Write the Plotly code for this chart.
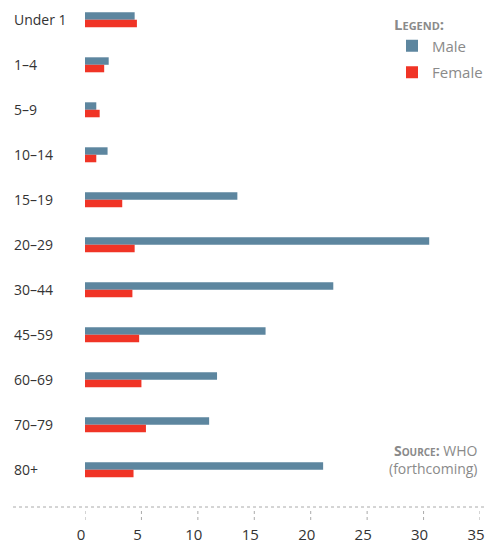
import plotly.graph_objects as go

categories = ["Under 1", "1–4", "5–9", "10–14", "15–19", "20–29",
              "30–44", "45–59", "60–69", "70–79", "80+"]
male = [4.4, 2.1, 1.0, 2.0, 13.5, 30.5, 22.0, 16.0, 11.7, 11.0, 21.1]
female = [4.6, 1.7, 1.3, 1.0, 3.3, 4.4, 4.2, 4.8, 5.0, 5.4, 4.3]
x_ticks = [0, 5, 10, 15, 20, 25, 30, 35]

MALE_C = "#5d869f"
FEMALE_C = "#f03426"
FONT = "Open Sans"

W, H = 485, 545
ML, MR, MT, MB = 85, 5, 0, 55
PW = W - ML - MR
PH = H - MT - MB


def px_x(px):
    return (px - ML) / PW


def px_y(py):
    return 1 - (py - MT) / PH


fig = go.Figure()
fig.add_trace(go.Bar(y=categories, x=male, orientation="h", name="Male",
                     marker=dict(color=MALE_C, line=dict(width=0)),
                     legendgroup="m"))
fig.add_trace(go.Bar(y=categories, x=female, orientation="h", name="Female",
                     marker=dict(color=FEMALE_C, line=dict(width=0)),
                     legendgroup="f"))

shapes = [dict(type="line", xref="paper", yref="paper",
               x0=px_x(13), x1=px_x(485), y0=px_y(507), y1=px_y(507),
               line=dict(color="#aaaaaa", width=1, dash="dot"))]
for t in x_ticks:
    shapes.append(dict(type="line", xref="x", yref="paper", x0=t, x1=t,
                       y0=px_y(511), y1=px_y(523),
                       line=dict(color="#aaaaaa", width=1, dash="dot")))

annotations = []
for c in categories:
    annotations.append(dict(xref="paper", yref="y", x=px_x(12), y=c,
                            xanchor="left", yanchor="middle", showarrow=False,
                            text=c, font=dict(family=FONT, size=14, color="#333333")))
annotations.append(dict(xref="paper", yref="paper", x=px_x(480), y=px_y(459),
                        xanchor="right", yanchor="middle", showarrow=False, align="right",
                        text='<span style="font-variant:small-caps"><b>Source:</b></span> WHO<br>(forthcoming)',
                        font=dict(family=FONT, size=14, color="#8a8a8a")))

fig.update_layout(
    width=W, height=H,
    margin=dict(l=ML, r=MR, t=MT, b=MB, autoexpand=False),
    paper_bgcolor="white", plot_bgcolor="white",
    barmode="group", bargap=0.667, bargroupgap=0,
    font=dict(family=FONT, color="#333333"),
    xaxis=dict(range=[0, 35], tickvals=x_ticks, showgrid=False, zeroline=False,
               showline=False, ticks="outside", ticklen=31, ticklabeloverflow="allow",
               ticklabelshift=-4, automargin=False,
               tickcolor="rgba(0,0,0,0)", tickfont=dict(family=FONT, size=15, color="#333333"),
               fixedrange=True),
    yaxis=dict(categoryorder="array", categoryarray=categories, automargin=False,
               range=[10.45, -0.44], showticklabels=False, showgrid=False,
               zeroline=False, showline=False, ticks=""),
    legend=dict(x=px_x(392), y=px_y(10), xanchor="left", yanchor="top",
                bgcolor="rgba(0,0,0,0)", traceorder="grouped", tracegroupgap=4,
                itemwidth=30,
                title=dict(text="<b>Legend:</b>",
                           font=dict(family=FONT, size=15, color="#8a8a8a", variant="small-caps")),
                font=dict(family=FONT, size=15, color="#8a8a8a")),
    shapes=shapes,
    annotations=annotations,
)

post = """
var css='margin:0;padding:0;overflow:hidden;';
document.documentElement.style.cssText=css;
document.body.style.cssText=css;
"""

fig.write_html("out.html", config={"displayModeBar": False}, post_script=post)
